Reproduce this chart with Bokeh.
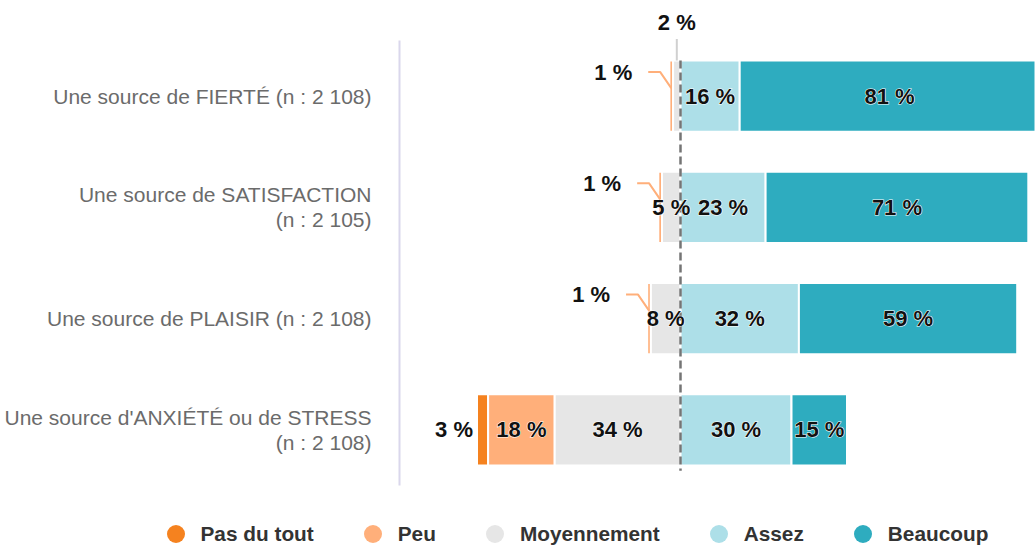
from bokeh.plotting import figure
from bokeh.models import Range1d, Legend, LegendItem
from bokeh.embed import file_html
from bokeh.resources import INLINE
from bokeh.core.properties import value

# ---------------- data ----------------
categories = [
    "Une source de FIERTÉ (n : 2 108)",
    "Une source de SATISFACTION\n(n : 2 105)",
    "Une source de PLAISIR (n : 2 108)",
    "Une source d'ANXIÉTÉ ou de STRESS\n(n : 2 108)",
]
series_names = ["Pas du tout", "Peu", "Moyennement", "Assez", "Beaucoup"]
pas_du_tout = [0, 0, 0, 3]
peu = [1, 1, 1, 18]
moyennement = [2, 5, 8, 34]
assez = [16, 23, 32, 30]
beaucoup = [81, 71, 59, 15]
colors = ["#F5821F", "#FFAF7A", "#E6E6E6", "#ADDFE8", "#2EACBF"]

# ---------------- geometry (pixels) ----------------
W, H = 1035, 545
PX_X = 3.7       # pixels per percent
PX_Y = 111.25    # pixels per row
ZERO_PX = 680    # zero line position
ROW0_PX = 95.6   # centre of first row
AXIS_PX = 399    # category axis line
LABEL_GAP = 28   # gap between category labels and axis line
BAR_H = 0.64

x_start = -ZERO_PX / PX_X
x_end = (W - ZERO_PX) / PX_X
y_top = -ROW0_PX / PX_Y
y_bottom = y_top + H / PX_Y

p = figure(width=W, height=H, x_range=Range1d(x_start, x_end),
           y_range=Range1d(y_bottom, y_top),
           output_backend="svg", toolbar_location=None, min_border=0)
p.outline_line_color = None
p.xgrid.visible = False
p.ygrid.visible = False
p.xaxis.visible = False
p.yaxis.visible = False

rows = list(range(len(categories)))

# stacked extents (negative side: Pas du tout, Peu, Moyennement; positive: Assez, Beaucoup)
series = [pas_du_tout, peu, moyennement, assez, beaucoup]
lefts, rights = [], []
for k in range(5):
    l, r = [], []
    for i in rows:
        if k < 3:
            outer = -sum(series[j][i] for j in range(k, 3))
            l.append(outer); r.append(outer + series[k][i])
        else:
            inner = sum(series[j][i] for j in range(3, k))
            l.append(inner); r.append(inner + series[k][i])
    lefts.append(l); rights.append(r)

legend_renderers = []
for k in range(5):
    ys = [i for i in rows if series[k][i] > 0]
    p.hbar(y=ys, left=[lefts[k][i] for i in ys], right=[rights[k][i] for i in ys],
           height=BAR_H, fill_color=colors[k], line_color="white", line_width=2)
    # hidden circle markers at the segment centres, used only for the legend swatch
    lr = p.scatter(x=[(lefts[k][i] + rights[k][i]) / 2 for i in ys], y=ys,
                   marker="circle", size=18, fill_color=colors[k], line_color=None,
                   visible=False)
    legend_renderers.append(lr)

# category axis line (lavender) and dashed zero line
ax_x = (AXIS_PX - ZERO_PX) / PX_X
p.segment(x0=[ax_x], x1=[ax_x], y0=[rows[0] - 0.5], y1=[rows[-1] + 0.5],
          line_color="#DAD7EC", line_width=2)
p.segment(x0=[0], x1=[0], y0=[rows[0] - BAR_H / 2], y1=[rows[-1] + 41 / PX_Y],
          line_color="#757575", line_width=2.5, line_dash="8 4")

# category labels
p.text(x=[ax_x - LABEL_GAP / PX_X] * len(rows), y=rows, text=categories,
       text_align="right", text_baseline="middle", text_line_height=1.1,
       text_font=value("Liberation Sans"), text_font_size="21px", text_color="#6B6B6B")

FONT = value("Liberation Sans")
LBL = "22px"

# inside labels (white halo underneath, black text on top)
in_x, in_y, in_t = [], [], []
for k in range(5):
    for i in rows:
        v = series[k][i]
        if v >= 5:
            in_x.append((lefts[k][i] + rights[k][i]) / 2)
            in_y.append(i)
            in_t.append(f"{v} %")
p.text(x=in_x, y=in_y, text=in_t, text_align="center", text_baseline="middle",
       text_font=FONT, text_font_size=LBL, text_font_style="bold",
       text_color="white", text_outline_color="white")
p.text(x=in_x, y=in_y, text=in_t, text_align="center", text_baseline="middle",
       text_font=FONT, text_font_size=LBL, text_font_style="bold",
       text_color="#111111")

# outside labels
lead_xs, lead_ys = [], []
o_x, o_y, o_t = [], [], []
r_x, r_y, r_t = [], [], []
top_xs, top_ys = [], []
for i in rows:
    if 0 < peu[i] < 5 and pas_du_tout[i] == 0:
        xe = (lefts[1][i] + rights[1][i]) / 2
        ye = i - 8 / PX_Y
        yk = i - 24 / PX_Y
        lead_xs.append([xe - 23 / PX_X, xe - 11 / PX_X, xe])
        lead_ys.append([yk, yk, ye])
        r_x.append(xe - 39 / PX_X); r_y.append(yk); r_t.append(f"{peu[i]} %")
    if 0 < pas_du_tout[i] < 5:
        r_x.append(lefts[0][i] - 4 / PX_X); r_y.append(i); r_t.append(f"{pas_du_tout[i]} %")
    if 0 < moyennement[i] < 5:
        xc = (lefts[2][i] + rights[2][i]) / 2
        top_xs.append([xc, xc]); top_ys.append([i - 57 / PX_Y, i - BAR_H / 2])
        o_x.append(xc); o_y.append(i - 73.5 / PX_Y); o_t.append(f"{moyennement[i]} %")

p.multi_line(xs=lead_xs, ys=lead_ys, line_color=colors[1], line_width=2)
p.multi_line(xs=top_xs, ys=top_ys, line_color="#D0D0D0", line_width=2)
p.text(x=r_x, y=r_y, text=r_t, text_align="right", text_baseline="middle",
       text_font=FONT, text_font_size=LBL, text_font_style="bold", text_color="#111111")
p.text(x=o_x, y=o_y, text=o_t, text_align="center", text_baseline="middle",
       text_font=FONT, text_font_size=LBL, text_font_style="bold", text_color="#111111")

# legend at the bottom (inside the frame)
items = [LegendItem(label=name, renderers=[r]) for name, r in zip(series_names, legend_renderers)]
legend = Legend(items=items, orientation="horizontal", location=(152.5, -11),
                glyph_width=45, glyph_height=45, label_standoff=3, spacing=36,
                padding=0, margin=0, border_line_color=None, background_fill_alpha=0,
                inactive_fill_alpha=0,
                label_text_font="Liberation Sans", label_text_font_size="20.8px",
                label_text_font_style="bold", label_text_color="#333333")
p.add_layout(legend, "center")

open("out.html", "w").write(file_html(p, INLINE))
